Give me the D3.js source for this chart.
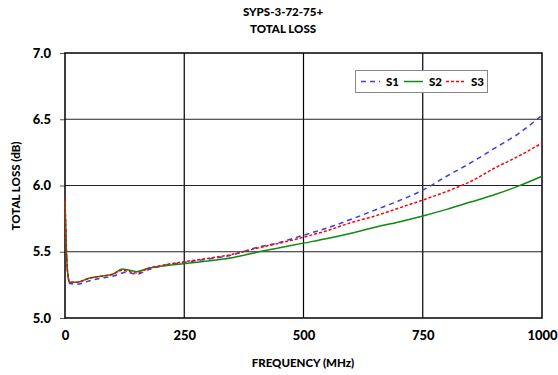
<!DOCTYPE html>
<html>
<head>
<meta charset="utf-8">
<script src="https://cdn.jsdelivr.net/npm/d3@7"></script>
<style>
  body { margin: 0; background: #fff; }
  text { font-family: Lato, "Open Sans", sans-serif; font-weight: 900; fill: #000; }
</style>
</head>
<body>
<svg id="chart" width="558" height="375"></svg>
<script>
// Frequencies (MHz) for every series
const freqs = [0, 3, 7, 10, 25, 50, 75, 100, 120, 130, 150, 175, 200, 250, 300, 350, 400, 450, 500,
               550, 600, 650, 700, 750, 800, 850, 900, 950, 1000];
// Total loss (dB)
const s1 = [5.88, 5.5, 5.3, 5.26, 5.255, 5.28, 5.30, 5.315, 5.34, 5.345, 5.33, 5.365, 5.39, 5.42, 5.445, 5.475, 5.53, 5.57, 5.625,
            5.68, 5.745, 5.815, 5.885, 5.965, 6.07, 6.17, 6.28, 6.39, 6.53];
const s2 = [5.88, 5.5, 5.3, 5.27, 5.27, 5.30, 5.315, 5.33, 5.37, 5.365, 5.35, 5.375, 5.39, 5.41, 5.43, 5.455, 5.495, 5.53, 5.565,
            5.60, 5.64, 5.685, 5.725, 5.77, 5.82, 5.875, 5.93, 5.995, 6.07];
const s3 = [5.90, 5.5, 5.3, 5.27, 5.27, 5.30, 5.315, 5.33, 5.36, 5.355, 5.34, 5.375, 5.395, 5.425, 5.45, 5.48, 5.525, 5.565, 5.61,
            5.66, 5.72, 5.77, 5.83, 5.89, 5.955, 6.03, 6.13, 6.22, 6.32];
const xTicks = [0, 250, 500, 750, 1000];
const yTicks = [5.0, 5.5, 6.0, 6.5, 7.0];

const series = [
    { name: "S1", values: s1, color: "#3c3ce0", dash: "5,4" },
    { name: "S2", values: s2, color: "#108a10", dash: null },
    { name: "S3", values: s3, color: "#ff0000", dash: "3,2" }
];

let svg = d3.select("#chart");
let plotLeft = 65, plotRight = 542, plotTop = 53, plotBottom = 318;

let x = d3.scaleLinear().domain([0, 1000]).range([plotLeft, plotRight]);
let y = d3.scaleLinear().domain([5, 7]).range([plotBottom, plotTop]);

// Grid lines
svg.append("g")
    .selectAll("line")
    .data(xTicks.slice(1, -1))
    .enter()
    .append("line")
    .attr("x1", d => x(d)).attr("x2", d => x(d))
    .attr("y1", plotTop).attr("y2", plotBottom)
    .style("stroke", "#000").style("stroke-width", 1.2);

svg.append("g")
    .selectAll("line")
    .data(yTicks.slice(1, -1))
    .enter()
    .append("line")
    .attr("x1", plotLeft).attr("x2", plotRight)
    .attr("y1", d => y(d)).attr("y2", d => y(d))
    .style("stroke", "#222").style("stroke-width", 1.2);

// Y axis with outward ticks
let yAxis = svg.append("g")
    .attr("transform", `translate(${plotLeft},0)`)
    .call(d3.axisLeft(y).tickValues(yTicks).tickFormat(d3.format(".1f")).tickSize(5).tickPadding(9));
yAxis.select(".domain").remove();
yAxis.selectAll("text").style("font-size", "13px");
yAxis.selectAll("line").style("stroke", "#555");

// X axis labels only
let xAxis = svg.append("g")
    .attr("transform", `translate(0,${plotBottom})`)
    .call(d3.axisBottom(x).tickValues(xTicks).tickFormat(d3.format("d")).tickSize(0).tickPadding(13));
xAxis.select(".domain").remove();
xAxis.selectAll("text").style("font-size", "13px");

// Plot border
svg.append("rect")
    .attr("x", plotLeft).attr("y", plotTop)
    .attr("width", plotRight - plotLeft).attr("height", plotBottom - plotTop)
    .style("fill", "none").style("stroke", "#000").style("stroke-width", 1.5);

// Series lines
let line = d3.line()
    .x((d, i) => x(freqs[i]))
    .y(d => y(d))
    .curve(d3.curveMonotoneX);

svg.append("g")
    .selectAll("path")
    .data(series)
    .enter()
    .append("path")
    .attr("d", d => line(d.values))
    .style("fill", "none")
    .style("stroke", d => d.color)
    .style("stroke-width", 1.5)
    .style("stroke-dasharray", d => d.dash);

// Titles
svg.append("text").attr("x", 283).attr("y", 16).attr("text-anchor", "middle")
    .style("font-size", "11.5px").text("SYPS-3-72-75+");
svg.append("text").attr("x", 283).attr("y", 33).attr("text-anchor", "middle")
    .style("font-size", "11.5px").text("TOTAL LOSS");
svg.append("text").attr("x", 303).attr("y", 367).attr("text-anchor", "middle")
    .style("font-size", "11.5px").text("FREQUENCY (MHz)");
svg.append("text")
    .attr("transform", "translate(20,186) rotate(-90)")
    .attr("text-anchor", "middle")
    .style("font-size", "11.5px").text("TOTAL LOSS (dB)");

// Legend
let legend = svg.append("g");
legend.append("rect")
    .attr("x", 355.5).attr("y", 70.5).attr("width", 132).attr("height", 22)
    .style("fill", "#fff").style("stroke", "#888").style("stroke-width", 1);

let legendX = [361, 404, 446];
series.forEach((s, i) => {
    legend.append("line")
        .attr("x1", legendX[i]).attr("x2", legendX[i] + 19)
        .attr("y1", 81.5).attr("y2", 81.5)
        .style("stroke", s.color).style("stroke-width", 1.5)
        .style("stroke-dasharray", s.dash);
    legend.append("text")
        .attr("x", legendX[i] + 25).attr("y", 85.5)
        .style("font-size", "11.5px").text(s.name);
});
</script>
</body>
</html>
